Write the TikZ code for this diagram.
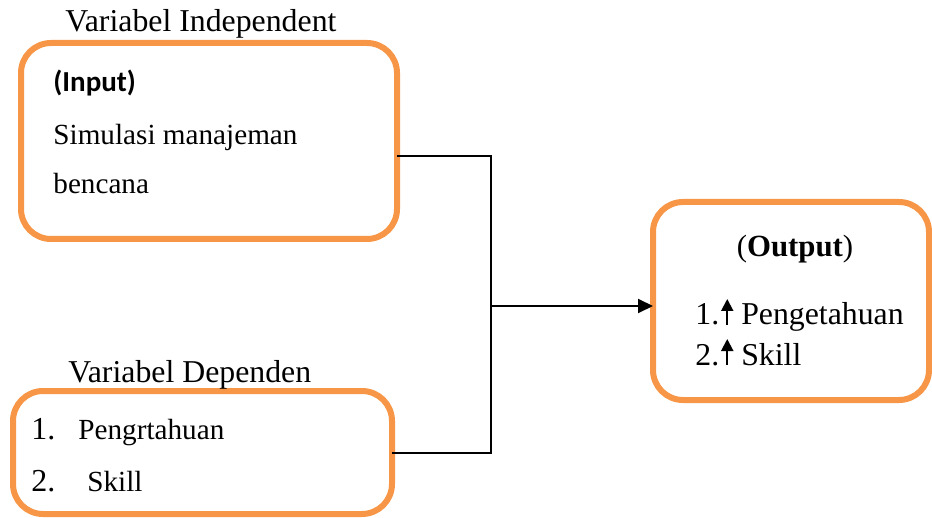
\documentclass[tikz,border=0pt]{standalone}
\usepackage{fontspec}
\setmainfont{Liberation Serif}
\newfontfamily\calibri{Carlito}
\usetikzlibrary{arrows.meta}
\definecolor{boxorange}{HTML}{F79646}
% small filled up arrow used in the output list
\newcommand{\uparr}{\tikz[baseline=0pt]\draw[line width=1pt,-{Triangle[length=6pt,width=6pt]}] (0pt,0pt) -- (0pt,13pt);}

\begin{document}
\begin{tikzpicture}[x=0.5pt,y=-0.5pt,
    varbox/.style={draw=boxorange,line width=3pt,rounded corners=15pt,
      rectangle,outer sep=0pt,inner sep=0pt},
    lbl/.style={anchor=base west,inner sep=0pt,font=\fontsize{15.9}{19}\selectfont},
    txt/.style={anchor=base west,inner sep=0pt,font=\fontsize{14.6}{18}\selectfont}]
    \useasboundingbox (0,0) rectangle (932,518);

    % Boxes
    \node[varbox,minimum width=188pt,minimum height=98pt] (in) at (209,141) {};
    \node[varbox,minimum width=189.5pt,minimum height=61.5pt] (dep) at (202.5,452.5) {};
    \node[varbox,minimum width=138pt,minimum height=99pt] (out) at (791,301) {};

    % Labels above the boxes
    \node[lbl] (inlbl) at (65,32) {Variabel Independent};
    \node[lbl] (deplbl) at (68,382) {Variabel Dependen};

    % Input box text
    \node[txt,font=\calibri\bfseries\fontsize{14.5}{18}\selectfont] (intitle) at (53,92) {(Input)};
    \node[txt] (in1) at (53,145) {Simulasi manajeman};
    \node[txt] (in2) at (53,194) {bencana};

    % Dependent box text
    \node[txt,font=\fontsize{16}{18}\selectfont] (depn1) at (31,439) {1.};
    \node[txt] (dep1) at (78,439) {Pengrtahuan};
    \node[txt,font=\fontsize{16}{18}\selectfont] (depn2) at (31,491) {2.};
    \node[txt] (dep2) at (87,491) {Skill};

    % Output box text
    \node[anchor=base,inner sep=0pt,font=\fontsize{15.4}{18}\selectfont] (outtitle) at (795,257) {(\textbf{Output})};
    \node[lbl] (out1) at (695,325) {1.\kern1pt\uparr\kern4pt Pengetahuan};
    \node[lbl] (out2) at (695,365) {2.\kern1pt\uparr\kern4pt Skill};

    % Connectors
    \coordinate (jtop) at (491,156);
    \coordinate (jbot) at (491,453);
    \coordinate (jmid) at (491,306);
    \draw[line width=0.7pt] (in.east |- jtop) -- (jtop) -- (jbot) -- (dep.east |- jbot);
    \draw[line width=1pt,-{Triangle[length=7.5pt,width=7pt]}] (jmid) -- (out.west |- jmid);
\end{tikzpicture}
\end{document}
